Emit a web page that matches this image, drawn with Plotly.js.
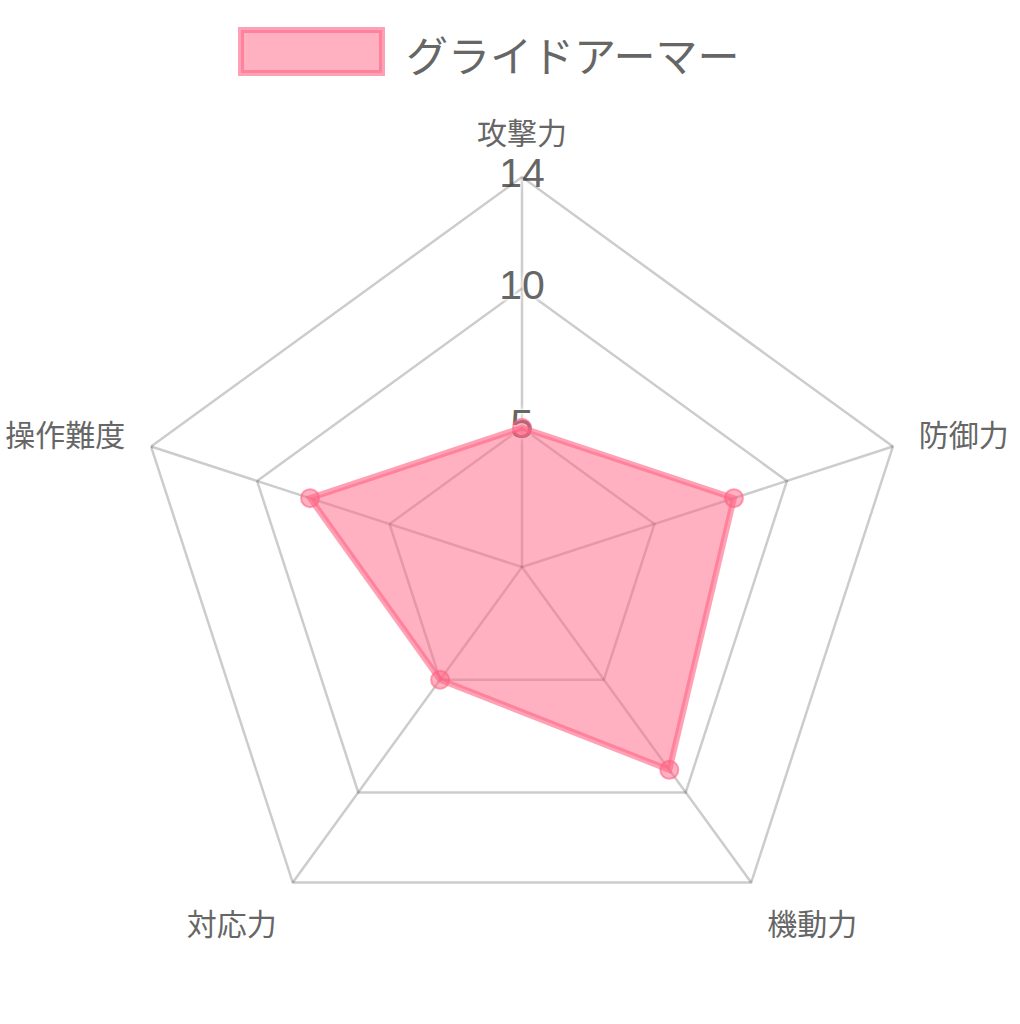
<!DOCTYPE html>
<html>
<head>
<meta charset="utf-8">
<script src="https://cdn.plot.ly/plotly-3.0.1.min.js"></script>
<style>
  html, body { margin: 0; padding: 0; background: #fff; }
  #chart { width: 1020px; height: 1024px; }
</style>
</head>
<body>
<div id="chart"></div>
<script>
'use strict';

// data
const seriesName = 'グライドアーマー';
const stats = ['攻撃力', '防御力', '機動力', '対応力', '操作難度'];
const values = [5, 8, 9, 5, 8];
const scaleTicks = [5, 10, 14];
const scaleMax = 14;

const pinkFill = 'rgba(255, 99, 132, 0.5)';
const pinkLine = 'rgba(255, 99, 132, 0.6)';
const gridColor = 'rgba(0, 0, 0, 0.2)';
const labelColor = '#666';
const jpFont = '"Noto Sans CJK JP", "Noto Sans", sans-serif';

const W = 1020, H = 1024;
// pixel -> paper helpers for the legend box
const px = (x) => x / W;
const py = (y) => 1 - y / H;

// close the polygon
const rClosed = values.concat([values[0]]);
const thClosed = stats.concat([stats[0]]);

// scale labels drawn along the first spoke (under the data, like the original)
let tickLabels = {
    type: 'scatterpolar',
    mode: 'text',
    r: scaleTicks,
    theta: scaleTicks.map(() => stats[0]),
    text: scaleTicks.map(String),
    textposition: 'middle center',
    textfont: {
        family: '"Liberation Sans", Arial, sans-serif',
        size: 41,
        color: labelColor,
        shadow: '0 0 3px #fff, 0 0 3px #fff, 0 0 6px #fff'
    },
    hoverinfo: 'skip',
    showlegend: false
};

let area = {
    type: 'scatterpolar',
    mode: 'lines',
    name: seriesName,
    r: rClosed,
    theta: thClosed,
    fill: 'toself',
    fillcolor: pinkFill,
    line: {color: pinkLine, width: 6},
    showlegend: false
};

let points = {
    type: 'scatterpolar',
    mode: 'markers',
    r: values,
    theta: stats,
    marker: {size: 18, color: pinkFill, line: {color: pinkLine, width: 2}},
    showlegend: false,
    hoverinfo: 'r+theta'
};

let layout = {
    width: W,
    height: H,
    margin: {l: 0, r: 0, t: 0, b: 0},
    paper_bgcolor: '#fff',
    font: {family: jpFont, color: labelColor},
    showlegend: false,
    // legend box (Chart.js style) + series name
    shapes: [{
        type: 'rect', xref: 'paper', yref: 'paper',
        x0: px(241), x1: px(382), y0: py(30), y1: py(73),
        fillcolor: pinkFill,
        line: {color: pinkLine, width: 6}
    }],
    annotations: [{
        xref: 'paper', yref: 'paper',
        x: px(404), y: py(53),
        xanchor: 'left', yanchor: 'middle',
        text: seriesName,
        showarrow: false,
        font: {size: 42, color: labelColor, family: jpFont}
    }],
    polar: {
        domain: {x: [0.1294, 0.8941], y: [0.0654, 0.8271]},
        bgcolor: 'rgba(0,0,0,0)',
        gridshape: 'linear',
        radialaxis: {
            range: [0, scaleMax],
            tickvals: scaleTicks,
            showticklabels: false,
            ticks: '',
            showline: false,
            gridcolor: gridColor,
            gridwidth: 2.5
        },
        angularaxis: {
            type: 'category',
            categoryarray: stats,
            rotation: 90,
            direction: 'clockwise',
            ticks: 'outside',
            ticklen: 20,
            tickcolor: 'rgba(0,0,0,0)',
            showline: true,
            linecolor: gridColor,
            linewidth: 2.5,
            gridcolor: gridColor,
            gridwidth: 2.5,
            tickfont: {size: 30, color: labelColor, family: jpFont}
        }
    }
};

Plotly.newPlot('chart', [tickLabels, area, points], layout, {displayModeBar: false, staticPlot: true});
</script>
</body>
</html>
